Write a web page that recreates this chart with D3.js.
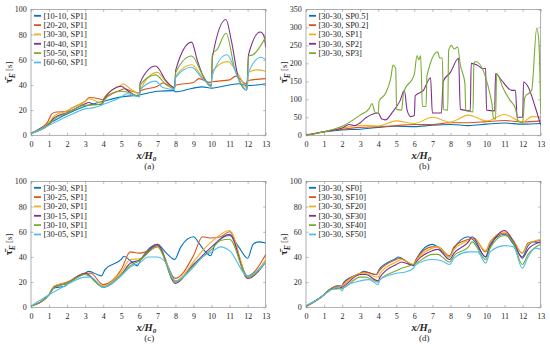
<!DOCTYPE html>
<html>
<head>
<meta charset="utf-8">
<script src="https://cdn.jsdelivr.net/npm/d3@7"></script>
<style>
  body { margin: 0; background: #fff; }
  text { font-family: "Liberation Serif", "Times New Roman", serif; fill: #262626; }
</style>
</head>
<body>
<div id="chart"></div>
<script>

// data -------------------------------------------------------------
var xTicks  = d3.range(0, 14);
var yTicksA = [0, 20, 40, 60, 80, 100];
var yTicksB = [0, 50, 100, 150, 200, 250, 300, 350];
var colors  = ['#0072BD', '#D95319', '#EDB120', '#7E2F8E', '#77AC30', '#4DBEEE'];

// (a)
var namesA = ['[10-10, SP1]', '[20-20, SP1]', '[30-30, SP1]', '[40-40, SP1]', '[50-50, SP1]', '[60-60, SP1]'];
var a1010 = [[0,1],[1,9.5],[2,17],[3,23],[4,27],[5,30.5],[6,32],[7,35],[7.9,35.5],[8,34.5],[9,37.5],[9.5,38.5],[10,37.5],[11,40],[11.5,41],[12,39.5],[13,41]];
var a2020 = [[0,2],[0.9,10],[1.15,17],[1.4,18.5],[2,19],[2.2,21],[3,27],[3.25,30],[3.9,28.5],[4,28],[4.2,31],[5,36],[5.15,37],[5.6,35],[6,33.5],[6.1,35.5],[7,39],[7.3,41.5],[7.9,38],[8.05,40],[9,42],[9.3,45],[9.9,42],[10.05,42.5],[11,44],[11.35,47],[11.9,41],[12.05,43.5],[13,45]];
var a3030 = [[0,2],[1,10],[1.3,15.5],[2,19.5],[2.3,22],[3,27],[3.2,29],[3.9,26],[4.05,30],[5,40],[5.1,41],[5.5,37],[6,33],[6.05,36],[7,50],[7.5,42],[7.95,37],[8.02,47],[8.9,56],[9.5,46],[9.98,40],[10.05,51],[10.9,58.5],[11.5,48],[11.98,37.5],[12.05,50],[12.5,52],[13,51]];
var a4040 = [[0,1.5],[1,9],[1.3,14],[2,18],[3,25],[3.2,26],[3.5,24.5],[3.9,24.5],[4.05,29],[5,39],[5.3,36],[5.8,31.5],[6,31],[6.05,42],[6.9,55],[7.5,43],[7.95,38],[8.02,52],[8.9,74],[9.2,60],[9.6,45],[9.98,39],[10.05,62],[10.8,92],[11.1,75],[11.5,45],[11.95,36],[12.05,64],[12.7,82],[12.9,79],[13,70]];
var a5050 = [[0,1.5],[1,8.5],[1.3,13],[2,17.5],[3,24],[3.3,24],[4,25.5],[4.05,28],[5,35],[5.4,34],[6,31],[6.05,40],[6.9,48],[7.5,40],[7.95,37],[8.02,50],[8.9,63],[9.5,48],[9.98,39],[10.05,65],[10.3,68],[10.8,81],[11.3,52],[11.95,36],[12.05,63],[12.3,64],[13,78]];
var a6060 = [[0,1],[1,8],[2,15],[3,21],[3.5,22],[4,24.5],[5,30.5],[5.3,33],[5.8,31],[6,30.5],[6.05,36],[6.9,43],[7.3,38],[7.95,36.5],[8.02,46],[8.9,54],[9.5,45],[9.98,40],[10.05,48],[10.85,64],[11.5,45],[11.95,36],[12.05,50],[12.75,62],[13,60]];

// (b)
var namesB = ['[30-30, SP0.5]', '[30-30, SP0.2]', '[30-30, SP1]', '[30-30, SP2]', '[30-30, SP3]'];
var bSP05 = [[0,0],[1,9],[2,15],[3,17],[4,22],[5,25],[6,24],[7,28],[8,30],[9,27],[10,31],[11,34],[12,31],[13,33]];
var bSP02 = [[0,0],[1,10],[2,17],[3,22],[4,24],[5,27],[6,30],[7,30],[8,35],[9,35],[10,38],[11,41],[12,37],[13,40]];
var bSP1  = [[0,2],[1,10],[2,19.5],[3,28],[4,26],[5,40],[6,33],[7,50],[8,37],[9,56],[10,40],[11,58],[12,37],[12.5,52],[13,51]];
var bSP2  = [[0,0],[1,10],[2,20],[2.4,30],[2.7,27],[3,35],[3.3,48],[4,62],[4.2,45],[4.4,43],[4.8,65],[5.2,95],[5.45,125],[5.6,70],[5.8,52],[6,55],[6.05,110],[6.5,125],[6.9,160],[7,62],[7.5,62],[7.6,150],[8,175],[8.45,214],[8.55,72],[9.1,68],[9.15,200],[9.5,195],[9.8,185],[9.95,186],[10,70],[10.45,68],[10.5,172],[10.8,155],[11.4,125],[11.6,125],[11.7,50],[12,50],[12.05,148],[12.3,135],[12.7,78],[13,28]];
var bSP3  = [[0,0],[1,10],[2,25],[3,56],[3.5,74],[3.65,88],[3.85,62],[4,62],[4.05,95],[4.4,116],[4.7,160],[4.82,195],[4.97,186],[5.02,72],[5.3,70],[5.4,118],[6,170],[6.15,222],[6.25,210],[6.35,222],[6.45,80],[6.65,80],[6.7,165],[7.3,232],[7.4,215],[7.55,215],[7.62,72],[7.85,70],[7.9,235],[8.05,250],[8.2,240],[8.4,245],[8.55,195],[8.8,145],[8.85,68],[9.25,65],[9.3,200],[9.4,205],[10.3,88],[10.38,48],[10.5,45],[10.56,172],[10.9,133],[11.3,97],[11.6,75],[11.75,40],[12,35],[12.12,106],[12.5,125],[12.78,298],[12.9,260],[13,60]];

// (c)
var namesC = ['[30-30, SP1]', '[30-25, SP1]', '[30-20, SP1]', '[30-15, SP1]', '[30-10, SP1]', '[30-05, SP1]'];
var c3030 = [[0,1],[1,10],[1.2,15],[1.9,17],[2.05,19],[3,27],[3.2,28.5],[3.9,25],[4.1,30],[5,38],[5.15,40.5],[5.5,37],[5.9,33],[6.05,37],[7,50],[7.5,43],[7.95,38],[8.3,48],[9,56],[9.3,51],[9.6,45],[9.95,41],[10.2,50],[11,57],[11.5,48],[12,39],[12.3,50],[12.6,52],[13,51]];
var c3025 = [[0,1],[1,10],[1.3,17],[2,20],[3,27],[3.3,27],[4,18],[5,30],[5.5,44],[6,43],[6.5,45],[7,49],[8,23],[9,41],[9.5,56],[10,55],[10.5,56],[11,60],[12,25],[13,42]];
var c3020 = [[0,1],[1,10],[1.3,16.5],[2,19.5],[3,27],[4,17],[5,28],[5.5,38],[6,38.5],[7,50],[8,21],[9,36],[9.5,45],[10,52],[11,61],[12,24],[13,38]];
var c3015 = [[0,1],[1,10],[1.3,16],[2,19],[3,27],[4,16],[5,26],[5.5,35],[6,37.5],[7,50],[8,19],[9,34],[9.5,41],[10,48],[11,58],[12,23],[13,36]];
var c3010 = [[0,1],[1,10],[1.3,16],[2,19],[3,26],[4,16],[5,26],[5.5,33],[6,37],[7,48],[8,20],[9,33],[9.5,40],[10,46],[10.5,53],[11,54],[12,24],[13,36]];
var c3005 = [[0,1],[1,10],[2,18],[3,24],[3.3,24],[4,16],[5,25],[5.5,32],[6,35],[6.5,40],[7,40],[7.5,35],[8,21],[9,32],[9.5,40],[10,44],[10.5,48],[11,45],[12,25],[13,36]];

// (d)
var namesD = ['[30-30, SF0]', '[30-30, SF10]', '[30-30, SF20]', '[30-30, SF30]', '[30-30, SF40]', '[30-30, SF50]'];
var dSF0  = [[0,1],[0.5,5],[1,10],[1.3,14],[1.8,17],[1.95,16],[2.1,20],[3,27],[3.2,28.5],[3.9,26],[4.05,30],[5,39],[5.1,40],[5.5,37],[5.95,33],[6.1,38],[7,50],[7.3,48],[7.95,40],[8.2,47],[9,56],[9.3,53],[9.95,40],[10.2,50],[11,58],[11.5,50],[11.98,40],[12.3,49],[12.6,52],[13,51]];
var dSF10 = [[0,0.5],[1,10],[1.3,14],[1.8,17],[2,17],[2.1,19],[3,27],[3.2,28],[3.9,26],[4.05,29],[5,38],[5.2,39],[5.95,34],[6.1,38],[7,48],[7.3,48],[7.95,41],[8.2,48],[9,54],[9.3,55],[9.95,44],[10.2,52],[11,59],[11.5,52],[11.98,43],[12.3,51],[13,53]];
var dSF20 = [[0,1],[1,10],[1.3,14],[2,17],[3,27],[3.2,27],[4,24],[4.1,27],[5,36],[5.3,38],[5.95,34],[6.1,37],[7,47],[7.3,48],[7.95,40],[8.2,46],[9,53],[9.3,55],[9.95,45],[10.2,52],[11,60],[11.5,53],[11.98,43],[12.3,50],[13,54]];
var dSF30 = [[0,1],[1,10],[1.3,14],[2,16],[3,26],[3.3,26],[4,21],[4.1,24],[5,34],[5.3,36],[5.95,33],[6.1,36],[7,45],[7.3,46],[7.95,38],[8.2,43],[9,52],[9.2,56],[9.95,40],[10.2,48],[11,61],[11.5,52],[11.98,39],[12.3,46],[13,52]];
var dSF40 = [[0,1],[1,10],[1.3,14],[2,15],[3,24],[3.3,24],[4,20],[4.1,22],[5,29],[5.3,31],[5.95,34],[6.1,35],[7,42],[7.3,42],[7.95,36],[8.2,41],[9,48],[9.2,52],[9.95,38],[10.2,47],[11,57],[11.5,51],[11.98,34],[12.3,42],[13,50]];
var dSF50 = [[0,1.5],[0.5,5],[1,10],[1.3,13],[1.8,16],[2,13],[2.1,16],[3,21],[3.5,22],[4,18],[4.1,22],[5,27],[5.5,28],[5.95,31],[6.1,34],[7,38],[7.5,37],[7.95,34],[8.2,39],[9,44],[9.5,44],[9.95,35],[10.2,44],[11,49],[11.5,48],[11.98,31],[12.3,40],[12.7,47],[13,46]];


// panel ------------------------------------------------------------
function panel () {

  //config options
  var width   = 275
    , height  = 172
    , left    = 31
    , right   = 9.3
    , top     = 9.4
    , bottom  = 36.7
    , yMax    = 100
    , yTicks  = yTicksA
    , series  = []
    , names   = []
    , tag     = '(a)'
  ;

  function chart(selection) {
    selection.each(function () {

      var g = d3.select(this);
      var x = d3.scaleLinear().domain([0, 13]).range([left, width - right]);
      var y = d3.scaleLinear().domain([0, yMax]).range([height - bottom, top]);
      var id = 'clip' + tag.replace(/\W/g, '');

      g.append('clipPath').attr('id', id)
        .append('rect')
        .attr('x', x(0)).attr('y', y(yMax))
        .attr('width', x(13) - x(0)).attr('height', y(0) - y(yMax));

      // axes
      var axes = [
        [d3.axisBottom(x).tickValues(xTicks).tickPadding(6.3), 'translate(0,' + y(0) + ')', true],
        [d3.axisTop(x).tickValues(xTicks), 'translate(0,' + y(yMax) + ')', false],
        [d3.axisLeft(y).tickValues(yTicks).tickPadding(4.3), 'translate(' + x(0) + ',0)', true],
        [d3.axisRight(y).tickValues(yTicks), 'translate(' + x(13) + ',0)', false]
      ];
      axes.forEach(function (a) {
        var ax = a[0].tickSizeInner(-2.5).tickSizeOuter(0);
        if (!a[2]) ax.tickFormat('');
        var ag = g.append('g').attr('transform', a[1]).call(ax);
        ag.select('.domain').remove();
        ag.selectAll('line').attr('stroke', '#8c8c8c').attr('stroke-width', 0.6);
        ag.selectAll('text').attr('font-size', 8).attr('fill', '#262626')
          .style('font-family', '"Liberation Serif", serif');
      });

      g.append('rect')
        .attr('x', x(0)).attr('y', y(yMax))
        .attr('width', x(13) - x(0)).attr('height', y(0) - y(yMax))
        .attr('fill', 'none').attr('stroke', '#8c8c8c').attr('stroke-width', 0.7);

      // lines
      var line = d3.line()
        .x(function (d) { return x(d[0]); })
        .y(function (d) { return y(d[1]); })
        .curve(d3.curveMonotoneX);

      g.append('g').attr('clip-path', 'url(#' + id + ')')
        .selectAll('path')
        .data(series)
        .enter()
        .append('path')
        .attr('d', line)
        .attr('fill', 'none')
        .attr('stroke', function (d, i) { return colors[i]; })
        .attr('stroke-width', 1.1)
        .attr('stroke-linejoin', 'round');

      // legend
      var lg = g.append('g').attr('transform', 'translate(' + (x(0) + 3) + ',' + (y(yMax) + 6.4) + ')');
      var rows = lg.selectAll('g').data(names).enter().append('g')
        .attr('transform', function (d, i) { return 'translate(0,' + (i * 9.33) + ')'; });
      rows.append('line')
        .attr('x1', 0).attr('x2', 7)
        .attr('stroke', function (d, i) { return colors[i]; })
        .attr('stroke-width', 1.8);
      rows.append('text')
        .attr('x', 9.5).attr('dy', '0.33em')
        .attr('font-size', 8.5)
        .text(function (d) { return d; });

      // y label
      var yl = g.append('text')
        .attr('transform', 'translate(12,' + ((y(0) + y(yMax)) / 2) + ') rotate(-90)')
        .attr('text-anchor', 'middle');
      yl.append('tspan').attr('font-weight', 'bold').attr('font-size', 11).text('\u03C4\u0304');
      yl.append('tspan').attr('font-weight', 'bold').attr('font-style', 'italic')
        .attr('font-size', 7.5).attr('dy', 2.5).text('E');
      yl.append('tspan').attr('font-size', 9).attr('dy', -2.5).text(' [s]');

      // x label
      var cx = (x(0) + x(13)) / 2;
      var xl = g.append('text')
        .attr('x', cx - 2).attr('y', y(0) + 24)
        .attr('text-anchor', 'middle')
        .attr('font-weight', 'bold').attr('font-style', 'italic').attr('font-size', 10.5);
      xl.append('tspan').text('x/H');
      xl.append('tspan').attr('font-size', 7).attr('dy', 1.5).text('0');

      g.append('text')
        .attr('x', cx + 1).attr('y', y(0) + 34)
        .attr('text-anchor', 'middle')
        .attr('font-size', 9)
        .text(tag);
    });
  }

  // getter/setters
  chart.yMax = function (value) { if (!arguments.length) return yMax; yMax = value; return chart; };
  chart.yTicks = function (value) { if (!arguments.length) return yTicks; yTicks = value; return chart; };
  chart.series = function (value) { if (!arguments.length) return series; series = value; return chart; };
  chart.names = function (value) { if (!arguments.length) return names; names = value; return chart; };
  chart.tag = function (value) { if (!arguments.length) return tag; tag = value; return chart; };

  return chart;
}


// draw -------------------------------------------------------------
var svg = d3.select('#chart').append('svg')
  .attr('width', 550)
  .attr('height', 347);

svg.append('g').call(panel().series([a1010, a2020, a3030, a4040, a5050, a6060]).names(namesA).tag('(a)'));
svg.append('g').attr('transform', 'translate(275,0)')
  .call(panel().yMax(350).yTicks(yTicksB).series([bSP05, bSP02, bSP1, bSP2, bSP3]).names(namesB).tag('(b)'));
svg.append('g').attr('transform', 'translate(0,172)')
  .call(panel().series([c3030, c3025, c3020, c3015, c3010, c3005]).names(namesC).tag('(c)'));
svg.append('g').attr('transform', 'translate(275,172)')
  .call(panel().series([dSF0, dSF10, dSF20, dSF30, dSF40, dSF50]).names(namesD).tag('(d)'));

</script>
</body>
</html>
